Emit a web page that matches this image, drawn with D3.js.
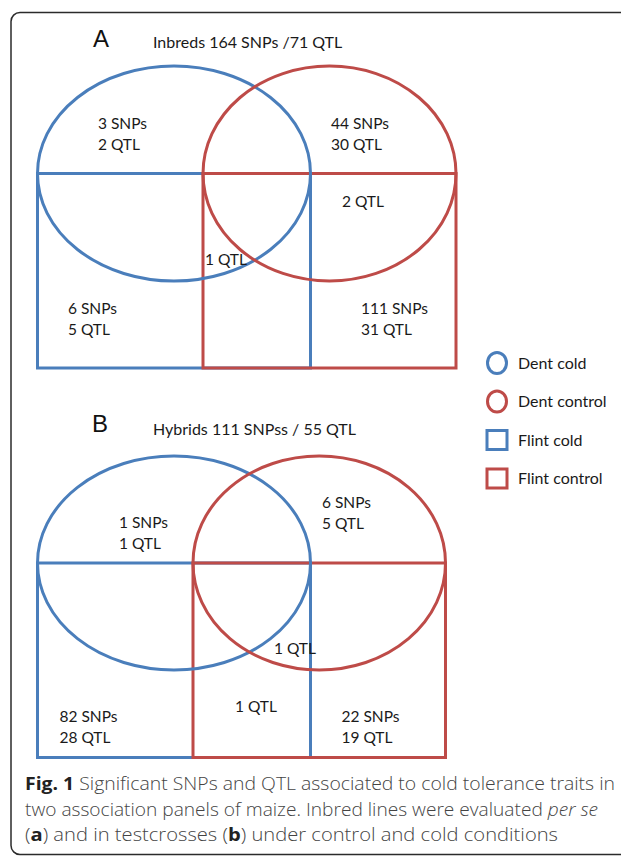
<!DOCTYPE html>
<html>
<head>
<meta charset="utf-8">
<script src="https://cdn.jsdelivr.net/npm/d3@7"></script>
<style>
  body { margin: 0; background: #fff; }
  svg { display: block; }
</style>
</head>
<body>
<script>
// values
const panelNames = ["A", "B"];
const panelTitles = ["Inbreds 164 SNPs /71 QTL", "Hybrids 111 SNPss / 55 QTL"];
// region order: cold only, control only, control rect/circle, centre, flint cold, flint control
const inbredCounts = [["3 SNPs", "2 QTL"], ["44 SNPs", "30 QTL"], ["2 QTL"], ["1 QTL"], ["6 SNPs", "5 QTL"], ["111 SNPs", "31 QTL"]];
const hybridCounts = [["1 SNPs", "1 QTL"], ["6 SNPs", "5 QTL"], ["1 QTL"], ["1 QTL"], ["82 SNPs", "28 QTL"], ["22 SNPs", "19 QTL"]];
const legendLabels = ["Dent cold", "Dent control", "Flint cold", "Flint control"];
const legendShapes = ["circle", "circle", "square", "square"];
const captionLines = [
  [["Fig. 1", "bold"], [" Significant SNPs and QTL associated to cold tolerance traits in", "normal"]],
  [["two association panels of maize. Inbred lines were evaluated ", "normal"], ["per se", "italic"]],
  [["(", "normal"], ["a", "bold"], [") and in testcrosses (", "normal"], ["b", "bold"], [") under control and cold conditions", "normal"]]
];

const svgWidth = 621;
const svgHeight = 856;

const blue = "#4a7ebb";
const red = "#be4b48";
const font = "Lato, 'Open Sans', sans-serif";

// geometry of the two diagrams (pixels)
const layout = [
  {
    blueX: [37.5, 310.5], redX: [203, 456], mid: 173.5, ry: 107.5, bottom: 368,
    letter: [93, 47], title: [153, 48],
    spots: [[98, 129], [331, 129], [342, 207], [205, 265], [68, 314], [361, 314]]
  },
  {
    blueX: [37.5, 310.5], redX: [193, 445.5], mid: 563, ry: 107, bottom: 757.5,
    letter: [92, 432], title: [153, 435],
    spots: [[119, 528], [322, 508], [274, 654], [235, 712], [59.5, 722], [341.5, 722]]
  }
];
const counts = [inbredCounts, hybridCounts];

var svg = d3.select("body")
  .append("svg")
  .attr("width", svgWidth)
  .attr("height", svgHeight);

// outer frame with rounded corners (runs off the right edge)
svg.append("rect")
  .attr("x", 11)
  .attr("y", 12.5)
  .attr("width", 700)
  .attr("height", 842)
  .attr("rx", 9)
  .attr("fill", "none")
  .attr("stroke", "#2b2b2b")
  .attr("stroke-width", 1.5);

layout.forEach(function(p, i) {
  var g = svg.append("g");

  // flint squares first, dent circles on top
  [[p.blueX, blue], [p.redX, red]].forEach(function(s) {
    g.append("rect")
      .attr("x", s[0][0])
      .attr("y", p.mid)
      .attr("width", s[0][1] - s[0][0])
      .attr("height", p.bottom - p.mid)
      .attr("fill", "none")
      .attr("stroke", s[1])
      .attr("stroke-width", 3);
  });
  [[p.blueX, blue], [p.redX, red]].forEach(function(s) {
    g.append("ellipse")
      .attr("cx", (s[0][0] + s[0][1]) / 2)
      .attr("cy", p.mid)
      .attr("rx", (s[0][1] - s[0][0]) / 2)
      .attr("ry", p.ry)
      .attr("fill", "none")
      .attr("stroke", s[1])
      .attr("stroke-width", 3);
  });

  g.append("text")
    .attr("x", p.letter[0])
    .attr("y", p.letter[1])
    .attr("font-family", "'Liberation Sans', Arial, sans-serif")
    .attr("font-size", 24)
    .attr("fill", "#111")
    .text(panelNames[i]);

  g.append("text")
    .attr("x", p.title[0])
    .attr("y", p.title[1])
    .attr("font-family", font)
    .attr("font-size", 16)
    .attr("fill", "#1a1a1a")
    .text(panelTitles[i]);

  // counts in each region
  var labels = g.selectAll(".count")
    .data(counts[i])
    .enter()
    .append("text")
    .attr("class", "count")
    .attr("font-family", font)
    .attr("font-size", 15.5)
    .attr("fill", "#1a1a1a");

  labels.selectAll("tspan")
    .data((d, j) => d.map(t => ({ t: t, pos: p.spots[j] })))
    .enter()
    .append("tspan")
    .attr("x", d => d.pos[0])
    .attr("y", (d, k) => d.pos[1] + k * 21)
    .text(d => d.t);
});

// legend
var legend = svg.append("g")
  .selectAll("g")
  .data(legendLabels)
  .enter()
  .append("g")
  .attr("transform", (d, i) => `translate(497, ${363 + i * 38.5})`);

legend.each(function(d, i) {
  var item = d3.select(this);
  var c = i % 2 === 0 ? blue : red;
  if (legendShapes[i] === "circle") {
    item.append("ellipse")
      .attr("rx", 9.5)
      .attr("ry", 10.5)
      .attr("fill", "none")
      .attr("stroke", c)
      .attr("stroke-width", 3);
  } else {
    item.append("rect")
      .attr("x", -10)
      .attr("y", -9.5)
      .attr("width", 20)
      .attr("height", 19)
      .attr("fill", "none")
      .attr("stroke", c)
      .attr("stroke-width", 3);
  }
  item.append("text")
    .attr("x", 21)
    .attr("y", 5.5)
    .attr("font-family", font)
    .attr("font-size", 16)
    .attr("fill", "#1a1a1a")
    .text(d);
});

// caption
var captionWidths = [590, 573, 533];
var caption = svg.append("g")
  .selectAll("text")
  .data(captionLines)
  .enter()
  .append("text")
  .attr("x", 25)
  .attr("y", (d, i) => 790 + i * 25.5)
  .attr("font-family", "'Open Sans', 'Noto Sans', sans-serif")
  .attr("font-size", 18)
  .attr("font-weight", 300)
  .attr("fill", "#444")
  .attr("textLength", (d, i) => captionWidths[i])
  .attr("lengthAdjust", "spacingAndGlyphs");

caption.selectAll("tspan")
  .data(d => d)
  .enter()
  .append("tspan")
  .attr("font-weight", d => d[1] === "bold" ? "bold" : null)
  .attr("font-style", d => d[1] === "italic" ? "italic" : null)
  .attr("fill", d => d[1] === "bold" ? "#222" : null)
  .text(d => d[0]);
</script>
</body>
</html>
